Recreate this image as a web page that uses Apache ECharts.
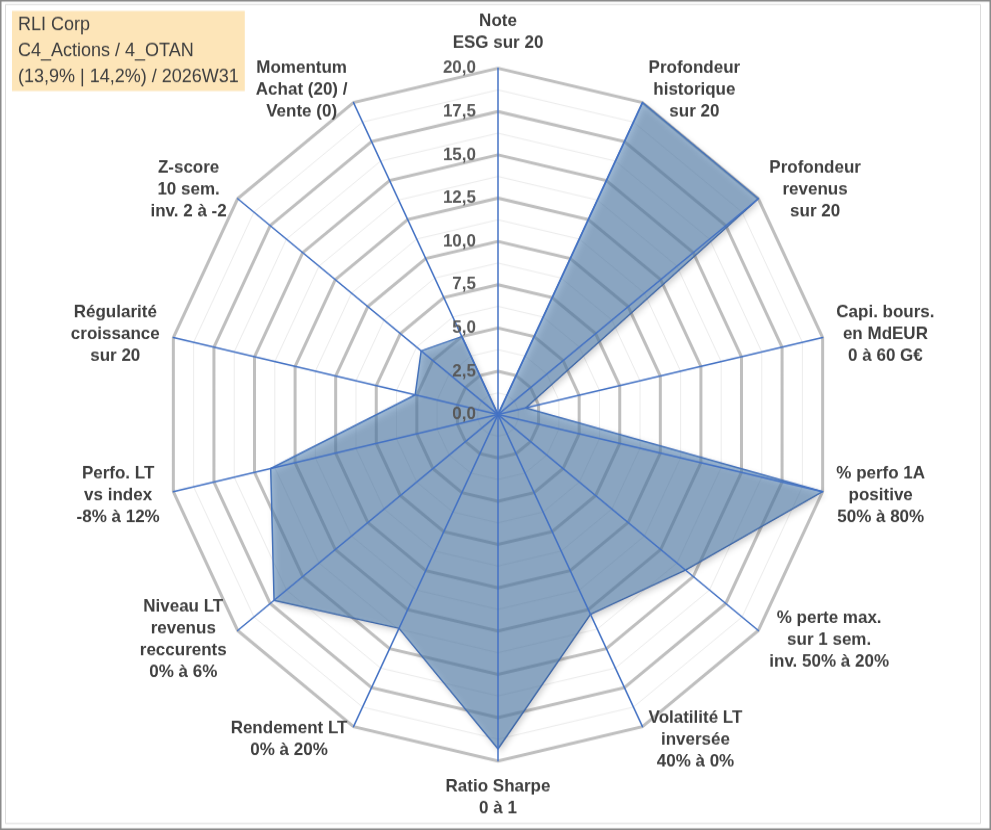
<!DOCTYPE html>
<html>
<head>
<meta charset="utf-8">
<script src="https://cdn.jsdelivr.net/npm/echarts@6/dist/echarts.min.js"></script>
<style>
html,body{margin:0;padding:0;background:#fff;overflow:hidden;}
#wrap{width:991px;height:830px;overflow:hidden;}
#chart{width:991px;height:798px;transform:scaleY(1.04);transform-origin:0 0;}
</style>
</head>
<body>
<div id="wrap"><div id="chart"></div></div>
<script>
// ---- data ----
const titleLines = ['RLI Corp', 'C4_Actions / 4_OTAN', '(13,9% | 14,2%) / 2026W31'];
const categories = [
  'Note\nESG sur 20',
  'Profondeur\nhistorique\nsur 20',
  'Profondeur\nrevenus\nsur 20',
  'Capi. bours.\nen MdEUR\n0 à 60 G€',
  '% perfo 1A\npositive\n50% à 80%',
  '% perte max.\nsur 1 sem.\ninv. 50% à 20%',
  'Volatilité LT\ninversée\n40% à 0%',
  'Ratio Sharpe\n0 à 1',
  'Rendement LT\n0% à 20%',
  'Niveau LT\nrevenus\nreccurents\n0% à 6%',
  'Perfo. LT\nvs index\n-8% à 12%',
  'Régularité\ncroissance\nsur 20',
  'Z-score\n10 sem.\ninv. 2 à -2',
  'Momentum\nAchat (20) /\nVente (0)'
];
const axisMax = [20, 20, 20, 20, 20, 20, 20, 20, 20, 20, 20, 20, 20, 20];
const scores = [0, 20, 20, 1.7, 20, 14.4, 12.8, 19.3, 13.7, 17.2, 14, 5.1, 5.9, 5];
const majorSplits = 8;   // ticks 0,0 .. 20,0 every 2,5
const minorSplits = 16;

// ---- build (clockwise order as in the reference) ----
const n = categories.length;
const order = categories.map((_, i) => (n - i) % n);
const FONT = "'Liberation Sans', Arial, sans-serif";

function indicators(withLabels) {
  return order.map((k, j) => {
    const o = { name: categories[k], max: axisMax[k], min: 0 };
    if (withLabels && j === 0) {
      o.axisLabel = {
        show: true,
        color: '#595959',
        fontFamily: FONT,
        fontWeight: 'bold',
        fontSize: 17,
        margin: 22,
        formatter: v => Number(v).toFixed(1).replace('.', ',')
      };
    }
    return o;
  });
}

const common = { center: [498, 398.6], radius: 333, startAngle: 90, shape: 'polygon' };

const chart = echarts.init(document.getElementById('chart'), null, { renderer: 'canvas' });
chart.setOption({
  animation: false,
  backgroundColor: '#ffffff',
  title: {
    text: titleLines.join('\n'),
    left: 12, top: 10.6,
    padding: [1, 6, 1, 6],
    backgroundColor: '#FDE5B8',
    textStyle: { fontFamily: FONT, fontSize: 18, fontWeight: 'normal', color: '#404040', lineHeight: 25 }
  },
  graphic: [
    { type: 'rect', shape: { x: 0.75, y: 0.7, width: 989.5, height: 796.6 }, style: { fill: 'none', stroke: '#8a8a8a', lineWidth: 1.5 }, z: 100 },
    { type: 'rect', shape: { x: 5.5, y: 4.3, width: 975, height: 787.5 }, style: { fill: 'none', stroke: '#dcdcdc', lineWidth: 1 }, z: 100 }
  ],
  radar: [
    Object.assign({}, common, {
      z: 0,
      indicator: indicators(false),
      splitNumber: minorSplits,
      axisName: { show: false },
      axisLine: { show: false },
      axisTick: { show: false },
      axisLabel: { show: false },
      splitArea: { show: false },
      splitLine: { show: true, lineStyle: { color: '#ececec', width: 1 } }
    }),
    Object.assign({}, common, {
      z: 1,
      indicator: indicators(false),
      splitNumber: majorSplits,
      axisName: { show: false },
      axisLine: { show: false },
      axisTick: { show: false },
      axisLabel: { show: false },
      splitArea: { show: false },
      splitLine: { show: true, lineStyle: { color: '#bfbfbf', width: 3 } }
    }),
    Object.assign({}, common, {
      z: 5,
      indicator: indicators(true),
      splitNumber: majorSplits,
      nameGap: 14,
      axisName: {
        show: true,
        color: '#404040',
        fontFamily: FONT,
        fontWeight: 'bold',
        fontSize: 17,
        lineHeight: 21,
        formatter: name => name.split('\n').map(l => '{c|' + l + '}').join('\n'),
        rich: {
          c: { align: 'center', color: '#404040', fontFamily: FONT, fontWeight: 'bold', fontSize: 17, lineHeight: 21 }
        }
      },
      axisLine: { show: true, lineStyle: { color: '#4472C4', width: 1.5 } },
      axisTick: { show: false },
      axisLabel: { show: false },
      splitArea: { show: false },
      splitLine: { show: false }
    })
  ],
  series: [{
    type: 'radar',
    radarIndex: 1,
    z: 2,
    symbol: 'none',
    lineStyle: { color: '#4472C4', width: 1.5 },
    areaStyle: {
      color: 'rgba(85,134,184,0.8)',
      shadowBlur: 6,
      shadowColor: 'rgba(0,0,0,0.35)',
      shadowOffsetX: 2,
      shadowOffsetY: 3
    },
    data: [{ value: order.map(k => scores[k]), name: 'RLI Corp' }]
  }]
});
</script>
</body>
</html>
